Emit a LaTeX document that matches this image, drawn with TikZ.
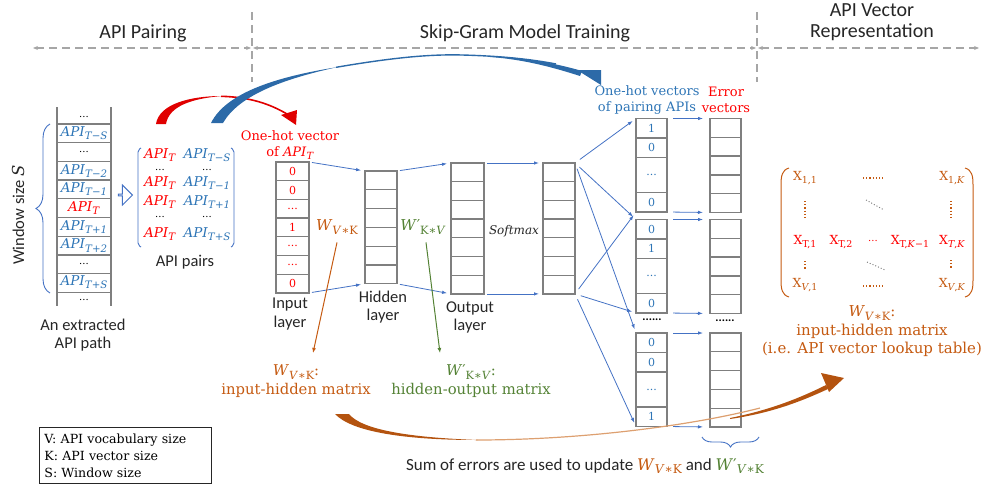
\documentclass[tikz,border=0pt]{standalone}
\usepackage{fontspec}
\usepackage{graphicx}
\setmainfont{Carlito}
\newfontfamily\serifx{DejaVu Serif}
\usetikzlibrary{arrows.meta,calc,decorations.pathreplacing,shapes.arrows}
\definecolor{hdrgray}{HTML}{262626}
\definecolor{dashgray}{HTML}{A6A6A6}
\definecolor{cellgray}{HTML}{7F7F7F}
\definecolor{apiblue}{HTML}{2E75B6}
\definecolor{lineblue}{HTML}{4472C4}
\definecolor{arcblue}{HTML}{2C6AA8}
\definecolor{arcred}{HTML}{E00000}
\definecolor{wor}{HTML}{C55A11}
\definecolor{wgreen}{HTML}{548235}
\definecolor{arcbrown}{HTML}{B4530F}
\definecolor{arcbrownlt}{HTML}{DDA070}
\newcommand\celldots{...}
\newcommand\subx[1]{\raisebox{-0.45ex}{\scalebox{0.76}{#1}}}
\newcommand\apix[1]{{\serifx\textit{API}\subx{\textit{#1}}}}
\newcommand\wvk{{\serifx\textit{W}\subx{\textit{V}∗K}}}
\newcommand\wkv{{\serifx\textit{W}′\subx{K∗\textit{V}}}}
\newcommand\wpvk{{\serifx\textit{W}′\subx{\textit{V}∗K}}}

\begin{document}
\begin{tikzpicture}[x=1pt,y=1pt,yscale=-1,
	hdr/.style={text=hdrgray,font=\fontsize{20}{21}\selectfont,align=center},
	lbl/.style={text=hdrgray,font=\fontsize{16.5}{18.5}\selectfont,align=center},
	srf/.style={font=\serifx\fontsize{13}{16}\selectfont,align=center},
	mth/.style={font=\serifx\fontsize{13.5}{17}\selectfont,inner sep=0},
	dotnode/.style={font=\serifx\fontsize{10}{12}\selectfont,inner sep=0,text height=1.5pt,text depth=0pt},
	mx/.style={text=wor,font=\serifx\fontsize{12.5}{15}\selectfont,inner sep=0},
	cell/.style={draw=cellgray,line width=1.3pt,minimum width=33,minimum height=18.7,inner sep=0,outer sep=0,font=\serifx\fontsize{11}{13}\selectfont},
	gap/.style={draw=dashgray,line width=1.1pt,dash pattern=on 8pt off 5pt},
	gaparr/.style={gap,{Stealth[length=5pt,width=4pt]}-{Stealth[length=5pt,width=4pt]}},
	conn/.style={draw=lineblue,line width=0.8pt,-{Latex[length=5pt,width=3.5pt]},shorten <=3pt,shorten >=4pt},
	warr/.style={line width=1pt,-{Latex[length=5pt,width=4pt]}},
	mdots/.style={wor,line width=1.2pt,dotted}]
	\useasboundingbox (0,0) rectangle (984,487);
	\node[hdr] (hpair) at (143,33) {API Pairing};
	\node[hdr] (hskip) at (525,33) {Skip-Gram Model Training};
	\node[hdr] (hvec) at (872,22.5) {API Vector\\Representation};
	\coordinate (g0) at (33,48);
	\coordinate (g1) at (252,48);
	\coordinate (g2) at (757,48);
	\coordinate (g3) at (979,48);
	\draw[gaparr,shorten >=1pt] (g0) -- (g1);
	\draw[gaparr,shorten <=1pt,shorten >=1pt] (g1) -- (g2);
	\draw[gaparr,shorten <=1pt] (g2) -- (g3);
	\draw[gap] (252,12) -- (252,82);
	\draw[gap] (757,12) -- (757,82);
	\draw[cellgray,line width=1.3pt] (57,107) -- (57,306) (111,107) -- (111,306);
	\foreach \y in {124,142.7,161.4,180.1,198.8,217.5,236.2,254.9,273.6,292.3}
		\draw[cellgray,line width=1.3pt] (57,\y) -- (111,\y);
	\node[dotnode] (p0) at (84,117) {\celldots};
	\node[mth,text=apiblue] (p1) at (84,133.4) {\apix{T−S}};
	\node[dotnode] (p2) at (84,152) {\celldots};
	\node[mth,text=apiblue] (p3) at (84,170.8) {\apix{T−2}};
	\node[mth,text=apiblue] (p4) at (84,189.5) {\apix{T−1}};
	\node[mth,text=red] (p5) at (84,208.2) {\apix{T}};
	\node[mth,text=apiblue] (p6) at (84,226.9) {\apix{T+1}};
	\node[mth,text=apiblue] (p7) at (84,245.6) {\apix{T+2}};
	\node[dotnode] (p8) at (84,264) {\celldots};
	\node[mth,text=apiblue] (p9) at (84,282.5) {\apix{T+S}};
	\node[dotnode] (p10) at (84,299.5) {\celldots};
	\draw[decorate,decoration={brace,amplitude=14pt},lineblue,line width=0.9pt] (50,293) -- (50,124);
	\node[lbl,rotate=90] (winlbl) at (18,215) {Window size {\serifx\textit{S}}};
	\node[lbl] (pathlbl) at (83,335) {An extracted\\API path};
	\node[single arrow,draw=lineblue,line width=1pt,fill=white,minimum width=20,minimum height=14,single arrow head extend=5,inner sep=0] (pairarr) at (125,195) {};
	\draw[lineblue,line width=0.9pt,rounded corners=2] (141,148) -- (138,150) -- (138,245) -- (141,247);
	\draw[lineblue,line width=0.9pt,rounded corners=2] (231,148) -- (234,150) -- (234,245) -- (231,247);
	\node[mth,text=red] (a1) at (160,155) {\apix{T}};
	\node[mth,text=apiblue] (b1) at (207,155) {\apix{T−S}};
	\node[dotnode] (a2) at (160,169.5) {\celldots};
	\node[dotnode] (b2) at (207,169.5) {\celldots};
	\node[mth,text=red] (a3) at (160,183) {\apix{T}};
	\node[mth,text=apiblue] (b3) at (207,183) {\apix{T−1}};
	\node[mth,text=red] (a4) at (160,202) {\apix{T}};
	\node[mth,text=apiblue] (b4) at (207,202) {\apix{T+1}};
	\node[dotnode] (a5) at (160,217) {\celldots};
	\node[dotnode] (b5) at (207,217) {\celldots};
	\node[mth,text=red] (a6) at (160,234) {\apix{T}};
	\node[mth,text=apiblue] (b6) at (207,234) {\apix{T+S}};
	\node[lbl] (pairlbl) at (185,262) {API pairs};
	\fill[arcred] (156,124) .. controls (159,104) and (190,96) .. (222,96) .. controls (192,98.5) and (169,106) .. (166,124) -- cycle;
	\draw[arcred,line width=1.6pt] (221,96.3) .. controls (250,97) and (270,104) .. (287,114);
	\fill[arcred] (281,115) -- (297,110) -- (296,125) -- cycle;
	\fill[arcblue] (211,123) .. controls (226,93) and (275,77) .. (338,67) .. controls (278,80) and (238,97) .. (223,123) -- cycle;
	\draw[arcblue,line width=1.4pt] (336,67.3) .. controls (385,59) and (425,54) .. (462,55) .. controls (500,56) and (530,59) .. (556,64);
	\fill[arcblue] (490,56) .. controls (525,58) and (555,63) .. (582,71) -- (580,76) .. controls (555,68) and (525,59.5) .. (490,57) -- cycle;
	\fill[arcblue] (577,70) -- (601,70) -- (601,85) -- cycle;
	\node[srf,text=red] (inlbl) at (290,145) {One-hot vector\\of \apix{T}};
	\foreach \v [count=\i] in {0,0,\celldots,1,\celldots,\celldots,0}
		\node[cell,text=red] (in\i) at (292.5,162+18.7*\i-9.35) {\v};
	\foreach \i in {1,...,6}
		\node[cell,minimum width=32,minimum height=18.8] (hd\i) at (381,171+18.8*\i-9.4) {};
	\foreach \i in {1,...,7}
		\node[cell] (op\i) at (467.5,163+18.7*\i-9.35) {};
	\foreach \i in {1,...,7}
		\node[cell,minimum width=32] (sm\i) at (559,163+18.7*\i-9.35) {};
	\node[lbl] (inname) at (290,314) {Input\\layer};
	\node[lbl] (hdname) at (383,307) {Hidden\\layer};
	\node[lbl] (opname) at (470,317.5) {Output\\layer};
	\node[mth,text=wor,font=\serifx\fontsize{15}{17}\selectfont] (wvk) at (337,227) {\wvk};
	\node[mth,text=wgreen,font=\serifx\fontsize{15}{17}\selectfont] (wkv) at (423,227) {\wkv};
	\node[font=\serifx\itshape\fontsize{12}{14}\selectfont,text=hdrgray] (smx) at (514,231) {Softmax};
	\draw[conn] (in1.north east) -- (hd1.north west);
	\draw[conn] (in7.south east) -- (hd6.south west);
	\draw[conn] (hd1.north east) -- (op1.north west);
	\draw[conn] (hd6.south east) -- (op7.south west);
	\draw[conn] (op1.north east) -- (sm1.north west);
	\draw[conn] (op7.south east) -- (sm7.south west);
	\node[srf,text=apiblue] (pvlbl) at (647,100) {One-hot vectors\\of pairing APIs};
	\node[srf,text=red] (evlbl) at (726,100) {Error\\vectors};
	\foreach \t/\a/\b/\d [count=\k] in {118.5/1/0/0,219.5/0/1/0,333/0/0/1} {
		\node[cell,text=apiblue,minimum width=31,minimum height=19.5,anchor=north] (pva\k) at (651.5,\t) {\a};
		\node[cell,text=apiblue,minimum width=31,minimum height=19.5,anchor=north] (pvb\k) at (pva\k.south) {\b};
		\node[cell,text=apiblue,minimum width=31,minimum height=35,anchor=north] (pvc\k) at (pvb\k.south) {\celldots};
		\node[cell,text=apiblue,minimum width=31,minimum height=19.5,anchor=north] (pvd\k) at (pvc\k.south) {\d};
		\foreach \i in {1,...,5}
			\node[cell,minimum width=31,minimum height=18.8] (ev\k\i) at (725.5,\t+18.8*\i-9.4) {};
		\draw[conn,shorten <=6pt] (sm1.north east) -- (pva\k.north west);
		\draw[conn,shorten <=6pt] (sm7.south east) -- (pvd\k.south west);
		\draw[conn,shorten <=6pt,shorten >=7pt] (pva\k.north east) -- (ev\k1.north west);
		\draw[conn,shorten <=6pt,shorten >=7pt] (pvd\k.south east) -- (ev\k5.south west);
	}
	\node[font=\bfseries\fontsize{12}{14}\selectfont] (pvdots) at (652,320) {......};
	\node[font=\bfseries\fontsize{12}{14}\selectfont] (evdots) at (725,321) {......};
	\draw[decorate,decoration={brace,amplitude=10pt},lineblue,line width=0.9pt] (759,437) -- (702,437);
	\coordinate (wtip1) at (313,353);
	\coordinate (wtip2) at (440,353);
	\draw[warr,wor] ($(wvk.south)+(0,8)$) -- (wtip1);
	\draw[warr,wgreen] ($(wkv.south)+(3,8)$) -- (wtip2);
	\node[srf,text=wor,font=\serifx\fontsize{14.8}{18.5}\selectfont] (wvkm) at (296,381) {\wvk:\\input-hidden matrix};
	\node[srf,text=wgreen,font=\serifx\fontsize{14.8}{18.5}\selectfont] (wkvm) at (471,381) {\wkv:\\hidden-output matrix};
	\draw[wor,line width=1pt] (789,168) .. controls (782,170) and (781,176) .. (781,185) -- (781,280) .. controls (781,289) and (782,295) .. (789,297);
	\draw[wor,line width=1pt] (965,168) .. controls (972,170) and (973,176) .. (973,185) -- (973,280) .. controls (973,289) and (972,295) .. (965,297);
	\node[mx] (x11) at (805,178) {X\subx{1,1}};
	\node[mx] (x1k) at (952,178) {X\subx{1,\textit{K}}};
	\node[mx,text=red] (xt1) at (805,242) {X\subx{T,1}};
	\node[mx,text=red] (xt2) at (841,242) {X\subx{T,2}};
	\node[dotnode,text=red] (xtd) at (873,241) {\celldots};
	\node[mx,text=red] (xtk1) at (910,242) {X\subx{T,\textit{K}−1}};
	\node[mx,text=red] (xtk) at (952,242) {X\subx{\textit{T},\textit{K}}};
	\node[mx] (xv1) at (805,285) {X\subx{\textit{V},1}};
	\node[mx] (xvk) at (952,285) {X\subx{\textit{V},\textit{K}}};
	\draw[mdots] (863,178) -- (883,178);
	\draw[mdots] (863,286) -- (883,286);
	\draw[mdots] (805,201) -- (805,220);
	\draw[mdots] (951,201) -- (951,220);
	\draw[mdots] (805,261) -- (805,270);
	\draw[mdots] (951,260) -- (951,269);
	\draw[gray,line width=1pt,dotted] (866,200) -- (884,210);
	\draw[gray,line width=1pt,dotted] (867,262) -- (885,270);
	\node[srf,text=wor,font=\serifx\fontsize{15}{18.5}\selectfont] (lookup) at (872,331.5) {\wvk:\\input-hidden matrix\\(i.e. API vector lookup table)};
	\fill[arcbrown] (335,414) .. controls (352,432) and (405,440) .. (478,440) .. controls (410,437.5) and (362,430) .. (349,414) -- cycle;
	\draw[arcbrownlt,line width=1.2pt] (476,440) .. controls (580,440) and (690,426) .. (760,408);
	\fill[arcbrown] (730,418) .. controls (770,410) and (800,398) .. (826,385) -- (828,389) .. controls (802,401) and (772,413) .. (730,419) -- cycle;
	\fill[arcbrown] (821,373) -- (844,378) -- (829,392) -- cycle;
	\node[draw=hdrgray,line width=0.8pt,anchor=north west,minimum width=172,minimum height=56,text width=162,inner xsep=5,inner ysep=2,align=left,font=\serifx\fontsize{12.6}{17}\selectfont] (legend) at (39,427) {V: API vocabulary size\\K: API vector size\\S: Window size};
	\node[lbl,font=\fontsize{17}{20}\selectfont] (sumtxt) at (585,466) {Sum of errors are used to update {\color{wor}\fontsize{16}{20}\selectfont\wvk} and {\color{wgreen}\fontsize{16}{20}\selectfont\wpvk}};
\end{tikzpicture}
\end{document}
